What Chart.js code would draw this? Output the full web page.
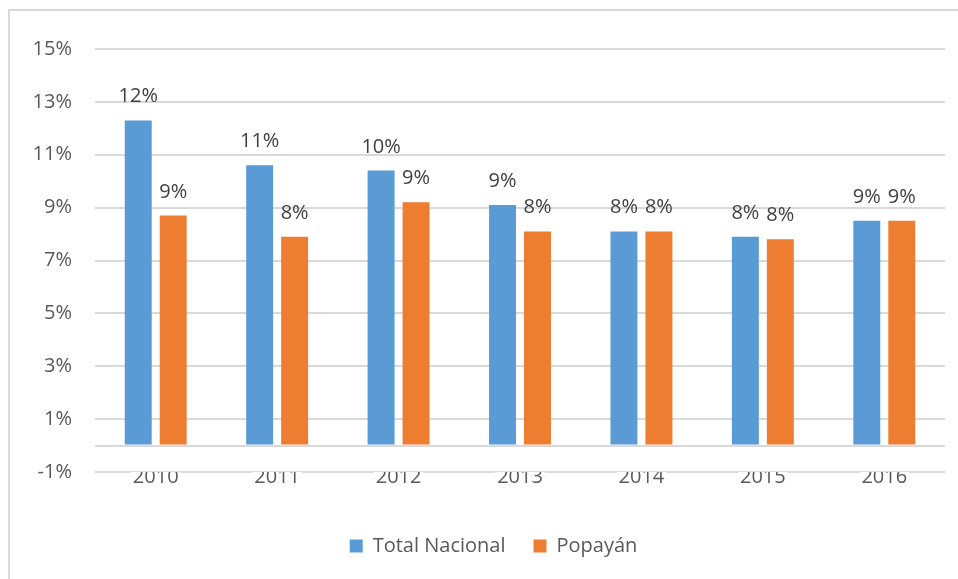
<!DOCTYPE html>
<html>
<head>
<meta charset="utf-8">
<script src="https://cdn.jsdelivr.net/npm/chart.js@4/dist/chart.umd.min.js"></script>
<style>
  html, body { margin: 0; padding: 0; background: #fff; }
  #wrap { position: relative; width: 958px; height: 579px; overflow: hidden; }
  #frame { position: absolute; left: 8px; top: 9px; right: -10px; bottom: -10px;
           border-left: 2px solid #d9d9d9; border-top: 2px solid #d9d9d9; }
  #chart { position: absolute; left: 0; top: 0; }
</style>
</head>
<body>
<div id="wrap">
  <div id="frame"></div>
  <canvas id="chart" width="958" height="579"></canvas>
</div>
<script>
  // data
  const years = ['2010', '2011', '2012', '2013', '2014', '2015', '2016'];
  const totalNacional = [12.3, 10.6, 10.4, 9.1, 8.1, 7.9, 8.5];
  const popayan = [8.7, 7.9, 9.2, 8.1, 8.1, 7.8, 8.5];
  const yTicks = [-1, 0, 1, 3, 5, 7, 9, 11, 13, 15];

  const FONT = "'Open Sans', 'Liberation Sans', sans-serif";

  // value labels over each bar
  const barLabels = {
    id: 'barLabels',
    afterDatasetsDraw(chart) {
      const ctx = chart.ctx;
      ctx.save();
      ctx.font = '20px ' + FONT;
      ctx.fillStyle = '#404040';
      ctx.textAlign = 'center';
      ctx.textBaseline = 'alphabetic';
      chart.data.datasets.forEach((ds, i) => {
        chart.getDatasetMeta(i).data.forEach((bar, j) => {
          ctx.fillText(Math.round(ds.data[j]) + '%', bar.x, bar.y - 18);
        });
      });
      ctx.restore();
    }
  };

  // legend sits a bit right of the canvas centre in the original
  const legendShift = {
    id: 'legendShift',
    afterLayout(chart) {
      chart.legend.left += 21;
      chart.legend.right += 21;
    }
  };

  new Chart(document.getElementById('chart'), {
    type: 'bar',
    data: {
      labels: years,
      datasets: [{
        label: 'Total Nacional',
        data: totalNacional,
        backgroundColor: '#5B9BD5',
        categoryPercentage: 0.576,
        barPercentage: 0.771
      }, {
        label: 'Popayán',
        data: popayan,
        backgroundColor: '#ED7D31',
        categoryPercentage: 0.576,
        barPercentage: 0.771
      }]
    },
    options: {
      responsive: false,
      animation: false,
      layout: { padding: { left: 0, right: 13, top: 49, bottom: 13 } },
      plugins: {
        legend: {
          position: 'bottom',
          labels: {
            boxWidth: 13,
            boxHeight: 13,
            padding: 28,
            color: '#595959',
            font: { family: FONT, size: 20 }
          }
        },
        tooltip: { enabled: false }
      },
      scales: {
        x: {
          grid: { display: false },
          border: { display: false },
          ticks: {
            z: 1,
            color: '#595959',
            padding: -15,
            font: { family: FONT, size: 20 },
            showLabelBackdrop: true,
            backdropColor: '#ffffff',
            backdropPadding: { top: 8, bottom: -4, left: 2, right: 2 }
          },
          afterFit(scale) { scale.height = 36; }
        },
        y: {
          min: -1,
          max: 15,
          grid: { color: '#d9d9d9', lineWidth: 2, drawTicks: false },
          border: { display: false },
          ticks: {
            color: '#595959',
            padding: 23,
            font: { family: FONT, size: 20 },
            callback: v => v === 0 ? '' : v + '%'
          },
          afterBuildTicks(scale) { scale.ticks = yTicks.map(v => ({ value: v })); },
          afterFit(scale) { scale.width = 95; }
        }
      }
    },
    plugins: [barLabels, legendShift]
  });
</script>
</body>
</html>
